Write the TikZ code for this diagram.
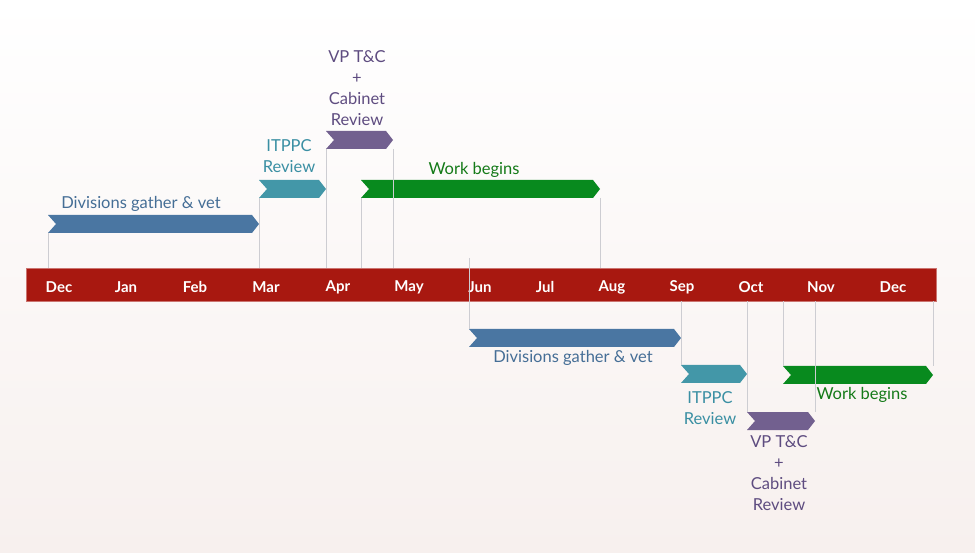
\documentclass[tikz,border=0pt]{standalone}
\usepackage{fontspec}
\setmainfont{Lato}
\usetikzlibrary{positioning}

\definecolor{barred}{RGB}{168,24,16}
\definecolor{divblue}{RGB}{74,118,162}
\definecolor{itpteal}{RGB}{67,151,168}
\definecolor{vppurple}{RGB}{114,96,143}
\definecolor{workgreen}{RGB}{8,138,30}
\definecolor{divtext}{RGB}{69,110,150}
\definecolor{itptext}{RGB}{58,143,163}
\definecolor{vptext}{RGB}{94,76,128}
\definecolor{worktext}{RGB}{20,122,24}
\definecolor{guidegray}{RGB}{205,205,210}
\definecolor{bgpink}{RGB}{247,240,238}

% chevron: name, left x, tip x, top y, colour
\newcommand{\chev}[5]{%
  \fill[#5] (#2,#4) -- ({#3-7},#4) -- (#3,{#4+9}) -- ({#3-7},{#4+18})
    -- (#2,{#4+18}) -- ({#2+8},{#4+9}) -- cycle;
  \coordinate (#1-tl) at (#2,#4);
  \coordinate (#1-tr) at (#3,#4);
  \coordinate (#1-bl) at (#2,{#4+18});
  \coordinate (#1-br) at (#3,{#4+18});
}

\begin{document}
\begin{tikzpicture}[x=1pt, y=-1pt,
    bar/.style={fill=barred, draw=barred!60, line width=0.6pt, inner sep=0pt},
    month/.style={text=white, font=\fontsize{15}{18}\selectfont\bfseries},
    lbl/.style={font=\fontsize{16.5}{21}\selectfont, align=center, inner sep=1pt},
    guide/.style={draw=guidegray, line width=0.8pt}]
  \useasboundingbox (0,0) rectangle (975,553);
  \shade[top color=white, bottom color=bgpink] (0,0) rectangle (975,553);

  % time bar
  \node[bar, minimum width=910pt, minimum height=33pt] (bar) at (481,284.5) {};
  \foreach \m/\x [count=\i] in {Dec/59,Jan/126,Feb/195,Mar/266,Apr/338,May/409,Jun/480,
      Jul/545,Aug/612,Sep/682,Oct/751,Nov/821,Dec/893}
    \node[month] (m\i) at (\x,287) {\m};

  % first cycle (above)
  \chev{divA}{48}{259}{215}{divblue}
  \chev{itpA}{259}{326}{180}{itpteal}
  \chev{vpA}{326}{393}{131}{vppurple}
  \chev{workA}{361}{600}{180}{workgreen}

  \node[lbl, text=divtext] (divA-txt) at (141,204) {Divisions gather \& vet};
  \node[lbl, text=itptext] (itpA-txt) at (289,156) {ITPPC\\Review};
  \node[lbl, text=vptext] (vpA-txt) at (357,88) {VP T\&C\\+\\Cabinet\\Review};
  \node[lbl, text=worktext] (workA-txt) at (474,170) {Work begins};

  \draw[guide] (divA-bl) -- (divA-bl |- bar.north);
  \draw[guide] (itpA-bl) -- (itpA-bl |- bar.north);
  \draw[guide] (vpA-bl) -- (vpA-bl |- bar.north);
  \draw[guide] (vpA-br) -- (vpA-br |- bar.north);
  \draw[guide] (workA-bl) -- (workA-bl |- bar.north);
  \draw[guide] (workA-br) -- (workA-br |- bar.north);

  % second cycle (below)
  \chev{divB}{469}{681}{329}{divblue}
  \chev{itpB}{681}{747}{365}{itpteal}
  \chev{vpB}{747}{815}{412}{vppurple}
  \chev{workB}{783}{933}{366}{workgreen}

  \node[lbl, text=divtext] (divB-txt) at (573,358) {Divisions gather \& vet};
  \node[lbl, text=itptext] (itpB-txt) at (710,408) {ITPPC\\Review};
  \node[lbl, text=vptext] (vpB-txt) at (779,473) {VP T\&C\\+\\Cabinet\\Review};
  \node[lbl, text=worktext] (workB-txt) at (862,395) {Work begins};

  \coordinate (junTop) at (469,258);
  \draw[guide] (junTop) -- (divB-tl);
  \draw[guide] (divB-tr |- bar.south) -- (itpB-tl);
  \draw[guide] (itpB-tr |- bar.south) -- (vpB-tl);
  \draw[guide] (workB-tl |- bar.south) -- (workB-tl);
  \draw[guide] (vpB-tr |- bar.south) -- (vpB-tr);
  \draw[guide] (workB-tr |- bar.south) -- (workB-tr);
\end{tikzpicture}
\end{document}
